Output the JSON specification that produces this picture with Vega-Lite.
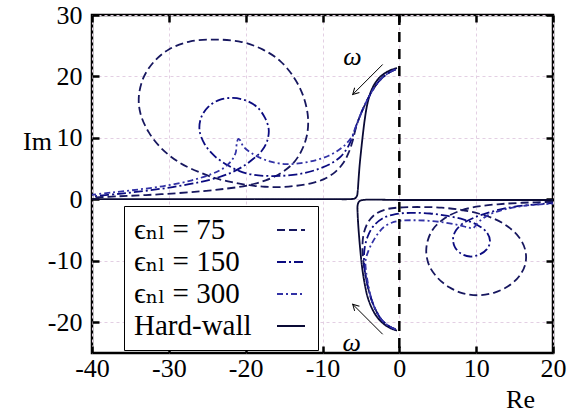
{
"$schema":"https://vega.github.io/schema/vega-lite/v6.json",
"width":461,"height":338,"autosize":"none",
"padding":{"left":92,"top":15,"right":20,"bottom":64},
"background":"white",
"config":{
"view":{"stroke":"black","strokeWidth":2.5},
"font":"Liberation Serif",
"axis":{"domain":false,"tickColor":"black","tickWidth":2.5,"tickSize":-7,"labelFont":"Liberation Serif","labelFontSize":26,"labelColor":"black","titleFont":"Liberation Serif","titleFontSize":26,"titleFontWeight":"normal","titleColor":"black","gridColor":"#e3cfe3","gridDash":[3,3],"gridWidth":1,"labelFlush":false,"labelOverlap":false},
"legend":{"orient":"none","legendX":32,"legendY":191,"strokeColor":"black","fillColor":"white","padding":9,"cornerRadius":0,"labelFont":"'Liberation Serif', 'DejaVu Serif', serif","labelFontSize":29,"labelColor":"black","symbolType":"stroke","symbolSize":784,"symbolStrokeWidth":2,"symbolOffset":143,"labelOffset":-172,"rowPadding":2,"labelLimit":0}
},
"datasets":{
"arrows":[{"x":-2.17,"y":21.95,"x2":-6.07,"y2":17.07},{"x":-2.17,"y":-21.95,"x2":-6.07,"y2":-17.07}],
"omega":[{"x":-6.1,"y":23.2,"t":"ω"},{"x":-6.2,"y":-23.3,"t":"ω"}],
"curves":[
{"k":"hw","b":"hu","i":0,"x":-40,"y":0.05},{"k":"hw","b":"hu","i":1,"x":-30,"y":0.05},{"k":"hw","b":"hu","i":2,"x":-20,"y":0.05},{"k":"hw","b":"hu","i":3,"x":-10,"y":0.05},{"k":"hw","b":"hu","i":4,"x":-6.3,"y":0.05},{"k":"hw","b":"hu","i":5,"x":-5.8,"y":0.15},{"k":"hw","b":"hu","i":6,"x":-5.52,"y":0.55},{"k":"hw","b":"hu","i":7,"x":-5.42,"y":1.3},{"k":"hw","b":"hu","i":8,"x":-5.32,"y":3},{"k":"hw","b":"hu","i":9,"x":-5.17,"y":5.5},{"k":"hw","b":"hu","i":10,"x":-4.97,"y":8},{"k":"hw","b":"hu","i":11,"x":-4.75,"y":10.5},{"k":"hw","b":"hu","i":12,"x":-4.5,"y":13},{"k":"hw","b":"hu","i":13,"x":-4.2,"y":15.3},{"k":"hw","b":"hu","i":14,"x":-3.8,"y":17.2},{"k":"hw","b":"hu","i":15,"x":-3.3,"y":18.6},{"k":"hw","b":"hu","i":16,"x":-2.6,"y":19.8},{"k":"hw","b":"hu","i":17,"x":-1.8,"y":20.6},{"k":"hw","b":"hu","i":18,"x":-1.0,"y":21.1},{"k":"hw","b":"hu","i":19,"x":-0.3,"y":21.35},
{"k":"hw","b":"hl","i":0,"x":20,"y":-0.1},{"k":"hw","b":"hl","i":1,"x":10,"y":-0.1},{"k":"hw","b":"hl","i":2,"x":0,"y":-0.1},{"k":"hw","b":"hl","i":3,"x":-4.7,"y":-0.1},{"k":"hw","b":"hl","i":4,"x":-5.2,"y":-0.3},{"k":"hw","b":"hl","i":5,"x":-5.42,"y":-0.9},{"k":"hw","b":"hl","i":6,"x":-5.42,"y":-2.5},{"k":"hw","b":"hl","i":7,"x":-5.3,"y":-5},{"k":"hw","b":"hl","i":8,"x":-5.1,"y":-8},{"k":"hw","b":"hl","i":9,"x":-4.85,"y":-11},{"k":"hw","b":"hl","i":10,"x":-4.5,"y":-13.8},{"k":"hw","b":"hl","i":11,"x":-4.1,"y":-16},{"k":"hw","b":"hl","i":12,"x":-3.5,"y":-17.9},{"k":"hw","b":"hl","i":13,"x":-2.8,"y":-19.3},{"k":"hw","b":"hl","i":14,"x":-2.0,"y":-20.3},{"k":"hw","b":"hl","i":15,"x":-1.1,"y":-21.0},{"k":"hw","b":"hl","i":16,"x":-0.3,"y":-21.35},
{"k":"75","b":"75u","i":0,"x":-0.5,"y":21.15},{"k":"75","b":"75u","i":1,"x":-1.3,"y":20.65},{"k":"75","b":"75u","i":2,"x":-2.3,"y":19.7},{"k":"75","b":"75u","i":3,"x":-3.2,"y":18.3},{"k":"75","b":"75u","i":4,"x":-4.0,"y":16.6},{"k":"75","b":"75u","i":5,"x":-4.7,"y":14.8},{"k":"75","b":"75u","i":6,"x":-5.3,"y":13.0},{"k":"75","b":"75u","i":7,"x":-5.7,"y":11.4},{"k":"75","b":"75u","i":8,"x":-6.1,"y":9.4},{"k":"75","b":"75u","i":9,"x":-6.6,"y":7.6},{"k":"75","b":"75u","i":10,"x":-7.3,"y":5.9},{"k":"75","b":"75u","i":11,"x":-8.4,"y":4.4},{"k":"75","b":"75u","i":12,"x":-9.8,"y":3.3},{"k":"75","b":"75u","i":13,"x":-11.5,"y":2.6},{"k":"75","b":"75u","i":14,"x":-13.5,"y":2.2},{"k":"75","b":"75u","i":15,"x":-15.5,"y":2.0},{"k":"75","b":"75u","i":16,"x":-17.5,"y":2.05},{"k":"75","b":"75u","i":17,"x":-19.5,"y":2.3},{"k":"75","b":"75u","i":18,"x":-21.8,"y":2.8},{"k":"75","b":"75u","i":19,"x":-23.8,"y":3.4},{"k":"75","b":"75u","i":20,"x":-25.8,"y":4.3},{"k":"75","b":"75u","i":21,"x":-28.5,"y":5.9},{"k":"75","b":"75u","i":22,"x":-30.8,"y":8.1},{"k":"75","b":"75u","i":23,"x":-32.6,"y":10.9},{"k":"75","b":"75u","i":24,"x":-33.7,"y":14},{"k":"75","b":"75u","i":25,"x":-33.9,"y":16.8},{"k":"75","b":"75u","i":26,"x":-33.3,"y":19.8},{"k":"75","b":"75u","i":27,"x":-32,"y":22.3},{"k":"75","b":"75u","i":28,"x":-30,"y":24.4},{"k":"75","b":"75u","i":29,"x":-27.2,"y":25.7},{"k":"75","b":"75u","i":30,"x":-23.8,"y":26.0},{"k":"75","b":"75u","i":31,"x":-20.5,"y":25.6},{"k":"75","b":"75u","i":32,"x":-17.8,"y":24.4},{"k":"75","b":"75u","i":33,"x":-15.5,"y":22.5},{"k":"75","b":"75u","i":34,"x":-13.7,"y":19.8},{"k":"75","b":"75u","i":35,"x":-12.5,"y":16.8},{"k":"75","b":"75u","i":36,"x":-11.9,"y":13.5},{"k":"75","b":"75u","i":37,"x":-12.0,"y":10.6},{"k":"75","b":"75u","i":38,"x":-12.7,"y":8},{"k":"75","b":"75u","i":39,"x":-13.8,"y":5.9},{"k":"75","b":"75u","i":40,"x":-15.4,"y":4.3},{"k":"75","b":"75u","i":41,"x":-17.4,"y":3.1},{"k":"75","b":"75u","i":42,"x":-19.8,"y":2.25},{"k":"75","b":"75u","i":43,"x":-22.5,"y":1.75},{"k":"75","b":"75u","i":44,"x":-25.5,"y":1.35},{"k":"75","b":"75u","i":45,"x":-29,"y":1.0},{"k":"75","b":"75u","i":46,"x":-33,"y":0.7},{"k":"75","b":"75u","i":47,"x":-36.5,"y":0.5},{"k":"75","b":"75u","i":48,"x":-40,"y":0.3},
{"k":"150","b":"150u","i":0,"x":-0.5,"y":21.15},{"k":"150","b":"150u","i":1,"x":-1.3,"y":20.65},{"k":"150","b":"150u","i":2,"x":-2.3,"y":19.7},{"k":"150","b":"150u","i":3,"x":-3.2,"y":18.3},{"k":"150","b":"150u","i":4,"x":-4.0,"y":16.6},{"k":"150","b":"150u","i":5,"x":-4.7,"y":14.8},{"k":"150","b":"150u","i":6,"x":-5.3,"y":13.0},{"k":"150","b":"150u","i":7,"x":-5.75,"y":11.5},{"k":"150","b":"150u","i":8,"x":-6.15,"y":10},{"k":"150","b":"150u","i":9,"x":-6.7,"y":8.5},{"k":"150","b":"150u","i":10,"x":-7.6,"y":7.0},{"k":"150","b":"150u","i":11,"x":-8.8,"y":5.9},{"k":"150","b":"150u","i":12,"x":-10.4,"y":5.0},{"k":"150","b":"150u","i":13,"x":-12.3,"y":4.3},{"k":"150","b":"150u","i":14,"x":-14.5,"y":3.9},{"k":"150","b":"150u","i":15,"x":-16.8,"y":3.8},{"k":"150","b":"150u","i":16,"x":-19,"y":4.0},{"k":"150","b":"150u","i":17,"x":-20.8,"y":4.6},{"k":"150","b":"150u","i":18,"x":-22.4,"y":5.6},{"k":"150","b":"150u","i":19,"x":-24,"y":7.0},{"k":"150","b":"150u","i":20,"x":-25.3,"y":8.9},{"k":"150","b":"150u","i":21,"x":-26,"y":11.2},{"k":"150","b":"150u","i":22,"x":-25.8,"y":13.3},{"k":"150","b":"150u","i":23,"x":-24.9,"y":15},{"k":"150","b":"150u","i":24,"x":-23.4,"y":16.2},{"k":"150","b":"150u","i":25,"x":-21.7,"y":16.5},{"k":"150","b":"150u","i":26,"x":-20,"y":16.1},{"k":"150","b":"150u","i":27,"x":-18.5,"y":15},{"k":"150","b":"150u","i":28,"x":-17.5,"y":13.3},{"k":"150","b":"150u","i":29,"x":-17.0,"y":11.4},{"k":"150","b":"150u","i":30,"x":-17.2,"y":9.5},{"k":"150","b":"150u","i":31,"x":-17.9,"y":7.9},{"k":"150","b":"150u","i":32,"x":-19,"y":6.6},{"k":"150","b":"150u","i":33,"x":-20.3,"y":5.4},{"k":"150","b":"150u","i":34,"x":-21.8,"y":4.4},{"k":"150","b":"150u","i":35,"x":-23.5,"y":3.6},{"k":"150","b":"150u","i":36,"x":-26,"y":2.8},{"k":"150","b":"150u","i":37,"x":-29.5,"y":2.0},{"k":"150","b":"150u","i":38,"x":-33,"y":1.4},{"k":"150","b":"150u","i":39,"x":-36.5,"y":0.9},{"k":"150","b":"150u","i":40,"x":-40,"y":0.5},
{"k":"300","b":"300u","i":0,"x":-0.5,"y":21.15},{"k":"300","b":"300u","i":1,"x":-1.3,"y":20.65},{"k":"300","b":"300u","i":2,"x":-2.3,"y":19.7},{"k":"300","b":"300u","i":3,"x":-3.2,"y":18.3},{"k":"300","b":"300u","i":4,"x":-4.0,"y":16.6},{"k":"300","b":"300u","i":5,"x":-4.7,"y":14.8},{"k":"300","b":"300u","i":6,"x":-5.3,"y":13.0},{"k":"300","b":"300u","i":7,"x":-5.7,"y":11.7},{"k":"300","b":"300u","i":8,"x":-6.1,"y":10.4},{"k":"300","b":"300u","i":9,"x":-6.8,"y":9.2},{"k":"300","b":"300u","i":10,"x":-7.8,"y":8.1},{"k":"300","b":"300u","i":11,"x":-9.2,"y":7.1},{"k":"300","b":"300u","i":12,"x":-10.8,"y":6.4},{"k":"300","b":"300u","i":13,"x":-12.8,"y":5.9},{"k":"300","b":"300u","i":14,"x":-15,"y":5.75},{"k":"300","b":"300u","i":15,"x":-17.4,"y":6.4},{"k":"300","b":"300u","i":16,"x":-19.2,"y":7.5},{"k":"300","b":"300u","i":17,"x":-20.3,"y":8.6},{"k":"300","b":"300u","i":18,"x":-20.7,"y":9.6},{"k":"300","b":"300u","i":19,"x":-20.95,"y":9.85},{"k":"300","b":"300u","i":20,"x":-21.15,"y":9.2},{"k":"300","b":"300u","i":21,"x":-21.3,"y":7.6},{"k":"300","b":"300u","i":22,"x":-21.9,"y":6.2},{"k":"300","b":"300u","i":23,"x":-23,"y":5.0},{"k":"300","b":"300u","i":24,"x":-24.5,"y":4.1},{"k":"300","b":"300u","i":25,"x":-27,"y":3.1},{"k":"300","b":"300u","i":26,"x":-30.5,"y":2.2},{"k":"300","b":"300u","i":27,"x":-34,"y":1.6},{"k":"300","b":"300u","i":28,"x":-37.5,"y":1.1},{"k":"300","b":"300u","i":29,"x":-40,"y":0.75},
{"k":"75","b":"75l","i":0,"x":-0.5,"y":-21.15},{"k":"75","b":"75l","i":1,"x":-1.4,"y":-20.6},{"k":"75","b":"75l","i":2,"x":-2.3,"y":-19.6},{"k":"75","b":"75l","i":3,"x":-3.0,"y":-18.2},{"k":"75","b":"75l","i":4,"x":-3.6,"y":-16.4},{"k":"75","b":"75l","i":5,"x":-4.1,"y":-14.2},{"k":"75","b":"75l","i":6,"x":-4.45,"y":-12},{"k":"75","b":"75l","i":7,"x":-4.7,"y":-9.8},{"k":"75","b":"75l","i":8,"x":-4.8,"y":-7.5},{"k":"75","b":"75l","i":9,"x":-4.6,"y":-5.4},{"k":"75","b":"75l","i":10,"x":-4.0,"y":-3.6},{"k":"75","b":"75l","i":11,"x":-3.0,"y":-2.3},{"k":"75","b":"75l","i":12,"x":-1.5,"y":-1.55},{"k":"75","b":"75l","i":13,"x":0.5,"y":-1.3},{"k":"75","b":"75l","i":14,"x":3,"y":-1.25},{"k":"75","b":"75l","i":15,"x":5.5,"y":-1.35},{"k":"75","b":"75l","i":16,"x":8,"y":-1.7},{"k":"75","b":"75l","i":17,"x":10.3,"y":-2.3},{"k":"75","b":"75l","i":18,"x":12.4,"y":-3.2},{"k":"75","b":"75l","i":19,"x":14.2,"y":-4.5},{"k":"75","b":"75l","i":20,"x":15.6,"y":-6.2},{"k":"75","b":"75l","i":21,"x":16.4,"y":-8.3},{"k":"75","b":"75l","i":22,"x":16.4,"y":-10.5},{"k":"75","b":"75l","i":23,"x":15.6,"y":-12.5},{"k":"75","b":"75l","i":24,"x":14.2,"y":-14.1},{"k":"75","b":"75l","i":25,"x":12.3,"y":-15.2},{"k":"75","b":"75l","i":26,"x":10.3,"y":-15.6},{"k":"75","b":"75l","i":27,"x":8.3,"y":-15.3},{"k":"75","b":"75l","i":28,"x":6.5,"y":-14.3},{"k":"75","b":"75l","i":29,"x":5,"y":-12.8},{"k":"75","b":"75l","i":30,"x":3.9,"y":-10.8},{"k":"75","b":"75l","i":31,"x":3.5,"y":-8.5},{"k":"75","b":"75l","i":32,"x":3.8,"y":-6.3},{"k":"75","b":"75l","i":33,"x":4.6,"y":-4.5},{"k":"75","b":"75l","i":34,"x":6,"y":-3.0},{"k":"75","b":"75l","i":35,"x":7.8,"y":-1.9},{"k":"75","b":"75l","i":36,"x":10,"y":-1.2},{"k":"75","b":"75l","i":37,"x":12.8,"y":-0.8},{"k":"75","b":"75l","i":38,"x":16,"y":-0.55},{"k":"75","b":"75l","i":39,"x":20,"y":-0.4},
{"k":"150","b":"150l","i":0,"x":-0.5,"y":-21.15},{"k":"150","b":"150l","i":1,"x":-1.4,"y":-20.6},{"k":"150","b":"150l","i":2,"x":-2.3,"y":-19.6},{"k":"150","b":"150l","i":3,"x":-3.0,"y":-18.2},{"k":"150","b":"150l","i":4,"x":-3.6,"y":-16.4},{"k":"150","b":"150l","i":5,"x":-4.1,"y":-14.2},{"k":"150","b":"150l","i":6,"x":-4.45,"y":-12},{"k":"150","b":"150l","i":7,"x":-4.6,"y":-9.8},{"k":"150","b":"150l","i":8,"x":-4.5,"y":-7.8},{"k":"150","b":"150l","i":9,"x":-4.1,"y":-6.0},{"k":"150","b":"150l","i":10,"x":-3.4,"y":-4.4},{"k":"150","b":"150l","i":11,"x":-2.2,"y":-3.1},{"k":"150","b":"150l","i":12,"x":-0.5,"y":-2.4},{"k":"150","b":"150l","i":13,"x":1.5,"y":-2.2},{"k":"150","b":"150l","i":14,"x":4,"y":-2.3},{"k":"150","b":"150l","i":15,"x":6.3,"y":-2.7},{"k":"150","b":"150l","i":16,"x":8.4,"y":-3.3},{"k":"150","b":"150l","i":17,"x":10.2,"y":-4.2},{"k":"150","b":"150l","i":18,"x":11.4,"y":-5.4},{"k":"150","b":"150l","i":19,"x":11.8,"y":-6.8},{"k":"150","b":"150l","i":20,"x":11.4,"y":-8.1},{"k":"150","b":"150l","i":21,"x":10.4,"y":-9.0},{"k":"150","b":"150l","i":22,"x":9.2,"y":-9.3},{"k":"150","b":"150l","i":23,"x":8.0,"y":-8.8},{"k":"150","b":"150l","i":24,"x":7.2,"y":-7.7},{"k":"150","b":"150l","i":25,"x":7.0,"y":-6.3},{"k":"150","b":"150l","i":26,"x":7.4,"y":-5.0},{"k":"150","b":"150l","i":27,"x":8.3,"y":-3.9},{"k":"150","b":"150l","i":28,"x":9.7,"y":-3.0},{"k":"150","b":"150l","i":29,"x":11.5,"y":-2.2},{"k":"150","b":"150l","i":30,"x":14,"y":-1.4},{"k":"150","b":"150l","i":31,"x":17,"y":-0.9},{"k":"150","b":"150l","i":32,"x":20,"y":-0.6},
{"k":"300","b":"300l","i":0,"x":-0.5,"y":-21.15},{"k":"300","b":"300l","i":1,"x":-1.4,"y":-20.6},{"k":"300","b":"300l","i":2,"x":-2.3,"y":-19.6},{"k":"300","b":"300l","i":3,"x":-3.0,"y":-18.2},{"k":"300","b":"300l","i":4,"x":-3.6,"y":-16.4},{"k":"300","b":"300l","i":5,"x":-4.0,"y":-14.2},{"k":"300","b":"300l","i":6,"x":-4.3,"y":-12},{"k":"300","b":"300l","i":7,"x":-4.4,"y":-10},{"k":"300","b":"300l","i":8,"x":-4.0,"y":-8.3},{"k":"300","b":"300l","i":9,"x":-3.5,"y":-7.0},{"k":"300","b":"300l","i":10,"x":-2.8,"y":-5.6},{"k":"300","b":"300l","i":11,"x":-2.0,"y":-4.5},{"k":"300","b":"300l","i":12,"x":-1.0,"y":-3.8},{"k":"300","b":"300l","i":13,"x":0,"y":-3.5},{"k":"300","b":"300l","i":14,"x":2,"y":-3.4},{"k":"300","b":"300l","i":15,"x":4,"y":-3.5},{"k":"300","b":"300l","i":16,"x":6,"y":-3.8},{"k":"300","b":"300l","i":17,"x":7.8,"y":-4.2},{"k":"300","b":"300l","i":18,"x":9,"y":-4.6},{"k":"300","b":"300l","i":19,"x":9.6,"y":-4.7},{"k":"300","b":"300l","i":20,"x":9.9,"y":-4.3},{"k":"300","b":"300l","i":21,"x":10.4,"y":-3.6},{"k":"300","b":"300l","i":22,"x":11.5,"y":-2.6},{"k":"300","b":"300l","i":23,"x":13.5,"y":-1.7},{"k":"300","b":"300l","i":24,"x":16.5,"y":-1.0},{"k":"300","b":"300l","i":25,"x":20,"y":-0.7}
]},
"layer":[
{"data":{"name":"curves"},
 "mark":{"type":"line","interpolate":"catmull-rom","strokeCap":"butt"},
 "encoding":{
  "x":{"field":"x","type":"quantitative","scale":{"domain":[-40,20],"nice":false,"zero":false},
       "axis":{"orient":"bottom","title":"Re","values":[-40,-30,-20,-10,0,10,20],"labelExpr":"'' + datum.value","labelPadding":9,"grid":true,"titleX":428,"titleY":46,"titleAlign":"center","titleBaseline":"middle"}},
  "y":{"field":"y","type":"quantitative","scale":{"domain":[-25,30],"nice":false,"zero":false},
       "axis":{"orient":"left","title":"Im","values":[-20,-10,0,10,20,30],"labelExpr":"'' + datum.value","labelPadding":17,"grid":true,"titleAngle":0,"titleX":-55,"titleY":126,"titleAlign":"center","titleBaseline":"middle"}},
  "order":{"field":"i","type":"quantitative"},
  "detail":{"field":"b","type":"nominal"},
  "color":{"field":"k","type":"nominal","scale":{"domain":["75","150","300","hw"],"range":["#17175f","#0b0b80","#3232a6","#0a0a35"]},
           "legend":{"title":null,"labelExpr":"datum.label == 'hw' ? 'Hard-wall' : 'ϵₙₗ = ' + datum.label"}},
  "strokeDash":{"field":"k","type":"nominal","scale":{"domain":["75","150","300","hw"],"range":[[8,4],[9,3,2,3],[6,3,2,3],[1,0]]},
           "legend":{"title":null,"labelExpr":"datum.label == 'hw' ? 'Hard-wall' : 'ϵₙₗ = ' + datum.label"}},
  "strokeWidth":{"field":"k","type":"nominal","scale":{"domain":["75","150","300","hw"],"range":[1.8,1.8,1.8,2.6]},"legend":null}
 }},
{"data":{"values":[{}]},
 "mark":{"type":"rule","color":"black","strokeWidth":2.5,"strokeDash":[10,7]},
 "encoding":{"x":{"datum":0,"type":"quantitative","scale":{"domain":[-40,20],"nice":false,"zero":false},"axis":null}}},
{"data":{"name":"arrows"},
 "mark":{"type":"rule","color":"black","strokeWidth":1},
 "encoding":{
  "x":{"field":"x","type":"quantitative","scale":{"domain":[-40,20],"nice":false,"zero":false},"axis":{"orient":"top","labels":false,"title":null,"grid":false,"values":[-40,-30,-20,-10,0,10,20]}},
  "y":{"field":"y","type":"quantitative","scale":{"domain":[-25,30],"nice":false,"zero":false},"axis":{"orient":"right","labels":false,"title":null,"grid":false,"values":[-20,-10,0,10,20,30]}},
  "x2":{"field":"x2"},"y2":{"field":"y2"}}},
{"data":{"name":"arrows"},
 "mark":{"type":"point","shape":"M-0.55,1L0,0L0.55,1","filled":false,"stroke":"black","strokeWidth":1,"size":150,"opacity":1},
 "encoding":{
  "x":{"field":"x2","type":"quantitative","scale":{"domain":[-40,20],"nice":false,"zero":false},"axis":null},
  "y":{"field":"y2","type":"quantitative","scale":{"domain":[-25,30],"nice":false,"zero":false},"axis":null},
  "angle":{"condition":{"test":"datum.y2 > 0","value":225},"value":315}}},
{"data":{"name":"omega"},
 "mark":{"type":"text","font":"Liberation Serif","fontStyle":"italic","fontSize":26,"color":"black"},
 "encoding":{
  "x":{"field":"x","type":"quantitative","scale":{"domain":[-40,20],"nice":false,"zero":false},"axis":null},
  "y":{"field":"y","type":"quantitative","scale":{"domain":[-25,30],"nice":false,"zero":false},"axis":null},
  "text":{"field":"t"}}}
],
"resolve":{"axis":{"x":"independent","y":"independent"}}
}
